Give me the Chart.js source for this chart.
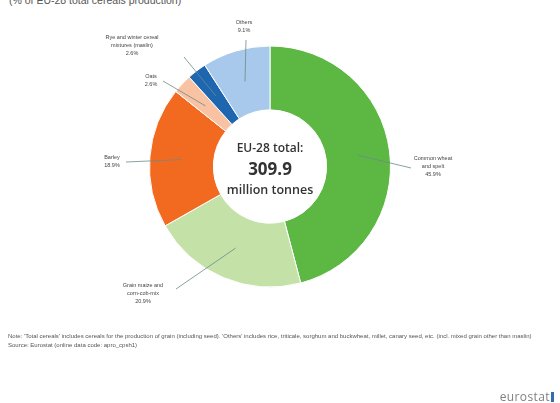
<!DOCTYPE html>
<html>
<head>
<meta charset="utf-8">
<script src="https://cdn.jsdelivr.net/npm/chart.js@4.4.1/dist/chart.umd.min.js"></script>
<style>
  html, body { margin: 0; padding: 0; background: #fff; }
  body { width: 560px; height: 403px; position: relative; overflow: hidden; font-family: "Liberation Sans", Arial, sans-serif; }
  #wrap { position: absolute; left: 0; top: 0; width: 560px; height: 403px; }
  .sub { position: absolute; left: 9px; top: -6px; font-size: 10.5px; color: #555; }
  .note { position: absolute; left: 8px; font-size: 6px; color: #555; white-space: nowrap; }
  .logo { position: absolute; right: 6px; top: 388px; font-size: 12px; color: #808080; letter-spacing: 0.4px; font-family: "Open Sans", sans-serif; }
  .logo span { display: inline-block; width: 3px; height: 10px; background: #2f6db5; margin-left: 1px; vertical-align: -1px; }
</style>
</head>
<body>
<div class="sub">(% of EU-28 total cereals production)</div>
<div id="wrap"><canvas id="pie" width="560" height="403"></canvas></div>
<div class="note" style="top:333px">Note: 'Total cereals' includes cereals for the production of grain (including seed). 'Others' includes rice, triticale, sorghum and buckwheat, millet, canary seed, etc. (incl. mixed grain other than maslin)</div>
<div class="note" style="top:342px">Source: Eurostat (online data code: apro_cpsh1)</div>
<div class="logo">eurostat<span></span></div>
<script>
// categories and shares (% of EU-28 total cereals production)
const categories = ["Common wheat and spelt", "Grain maize and corn-cob-mix", "Barley", "Oats", "Rye and winter cereal mixtures (maslin)", "Others"];
const shares = [45.9, 20.9, 18.9, 2.6, 2.6, 9.1];
const shareLabels = ["45.9%", "20.9%", "18.9%", "2.6%", "2.6%", "9.1%"];
const labelLines = [
  ["Common wheat", "and spelt"],
  ["Grain maize and", "corn-cob-mix"],
  ["Barley"],
  ["Oats"],
  ["Rye and winter cereal", "mixtures (maslin)"],
  ["Others"]
];
const colors = ["#5db843", "#c4e2a8", "#f26a1f", "#f8c2a3", "#1f66b0", "#a9c9ec"];

// where each label sits, and where its leader line leaves it
const labelPos = [
  { x: 433, y: 158, lx: 411, ly: 168 },
  { x: 143, y: 285, lx: 176, ly: 289 },
  { x: 112, y: 157, lx: 126, ly: 162 },
  { x: 151, y: 76,  lx: 163, ly: 81 },
  { x: 132, y: 37,  lx: 184, ly: 57 },
  { x: 244, y: 22,  lx: 246, ly: 40 }
];

const labelPlugin = {
  id: "labels",
  afterDatasetsDraw(chart) {
    const ctx = chart.ctx;
    const arcs = chart.getDatasetMeta(0).data;
    ctx.save();
    arcs.forEach((arc, i) => {
      const p = labelPos[i];
      const mid = (arc.startAngle + arc.endAngle) / 2;
      const r = (arc.innerRadius + arc.outerRadius) / 2;
      const ax = arc.x + Math.cos(mid) * r;
      const ay = arc.y + Math.sin(mid) * r;
      ctx.strokeStyle = "#6b8a8a";
      ctx.lineWidth = 0.8;
      ctx.beginPath();
      ctx.moveTo(p.lx, p.ly);
      ctx.lineTo(ax, ay);
      ctx.stroke();

      ctx.fillStyle = "#444";
      ctx.font = "5.5px 'Liberation Sans', Arial, sans-serif";
      ctx.textAlign = "center";
      ctx.textBaseline = "middle";
      const lines = labelLines[i].concat([shareLabels[i]]);
      lines.forEach((t, k) => ctx.fillText(t, p.x, p.y + k * 8));
    });

    // centre text
    const a = arcs[0];
    ctx.fillStyle = "#333";
    ctx.textAlign = "center";
    ctx.textBaseline = "middle";
    ctx.font = "600 12px 'Open Sans', sans-serif";
    ctx.fillText("EU-28 total:", a.x, a.y - 18);
    ctx.font = "bold 17px 'Open Sans', sans-serif";
    ctx.fillText("309.9", a.x, a.y + 4);
    ctx.font = "600 12.5px 'Open Sans', sans-serif";
    ctx.fillText("million tonnes", a.x, a.y + 24);
    ctx.restore();
  }
};

new Chart(document.getElementById("pie"), {
  type: "doughnut",
  data: {
    labels: categories,
    datasets: [{
      data: shares,
      backgroundColor: colors,
      borderColor: "#ffffff",
      borderWidth: 1
    }]
  },
  options: {
    responsive: false,
    animation: false,
    cutout: "47%",
    layout: { padding: { left: 149, right: 169, top: 45, bottom: 115 } },
    plugins: {
      legend: { display: false },
      tooltip: { enabled: false }
    }
  },
  plugins: [labelPlugin]
});
</script>
</body>
</html>
